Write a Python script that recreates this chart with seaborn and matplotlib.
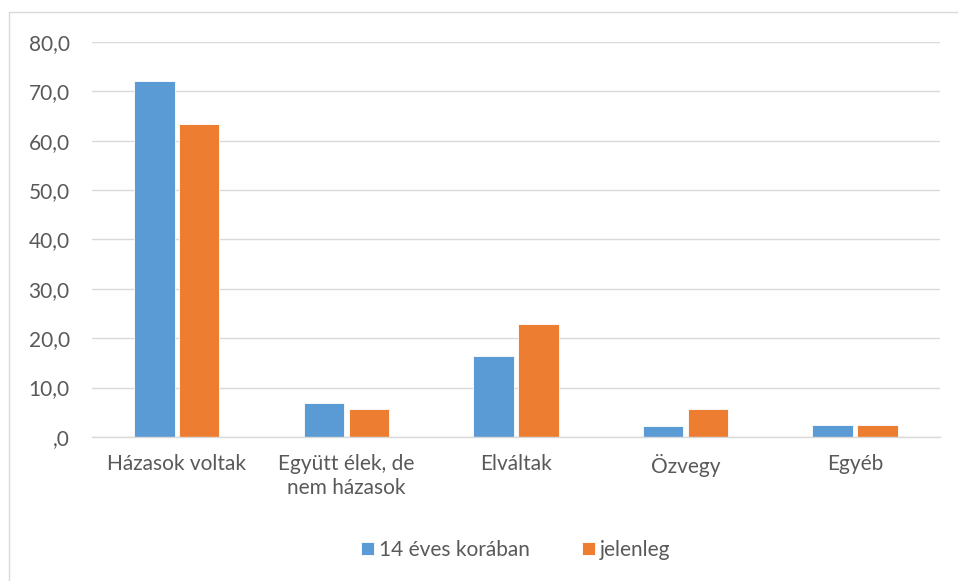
import pandas as pd
import matplotlib
matplotlib.use('Agg')
import matplotlib.pyplot as plt
import seaborn as sns
from matplotlib.ticker import FuncFormatter

categories = ['Házasok voltak', 'Együtt élek, de\nnem házasok', 'Elváltak', 'Özvegy', 'Egyéb']
series_names = ['14 éves korában', 'jelenleg']
values_14 = [72.0, 6.8, 16.4, 2.2, 2.5]
values_now = [63.3, 5.7, 22.9, 5.7, 2.4]

df = pd.DataFrame({
    'kategoria': categories * 2,
    'ertek': values_14 + values_now,
    'sorozat': [series_names[0]] * len(categories) + [series_names[1]] * len(categories),
})

sns.set_style('white')
plt.rcParams['font.family'] = ['Lato', 'DejaVu Sans']
text_color = '#595959'
fs = 15

fig = plt.figure(figsize=(9.58, 5.81), dpi=100)
ax = fig.add_axes([0.096, 0.248, 0.885, 0.68])

sns.barplot(data=df, x='kategoria', y='ertek', hue='sorozat',
            palette=['#5B9BD5', '#ED7D31'], saturation=1, width=0.53, gap=0.1,
            edgecolor='white', linewidth=0.6, ax=ax, legend=True)

ax.set_ylim(0, 80)
ax.set_yticks(range(0, 81, 10))
ax.yaxis.set_major_formatter(FuncFormatter(lambda v, p: ',0' if v == 0 else f'{v:.1f}'.replace('.', ',')))
ax.grid(axis='y', color='#d9d9d9', linewidth=1)
ax.set_axisbelow(True)
for s in ['top', 'right', 'left']:
    ax.spines[s].set_visible(False)
ax.spines['bottom'].set_color('#d9d9d9')
ax.spines['bottom'].set_linewidth(1)
ax.tick_params(axis='y', length=0, labelsize=fs, colors=text_color, pad=16)
ax.tick_params(axis='x', length=0, labelsize=fs, colors=text_color, pad=12)
for lab in ax.get_xticklabels():
    lab.set_linespacing(1.25)
ax.set_xlabel('')
ax.set_ylabel('')

leg = ax.legend(loc='center', bbox_to_anchor=(0.5, -0.285), ncol=2, frameon=False,
                fontsize=fs, handlelength=0.6, handleheight=0.6, columnspacing=2.5,
                handletextpad=0.25)
for t in leg.get_texts():
    t.set_color(text_color)

# chart frame
fig.patches.append(plt.Rectangle((0.009, -0.01), 1.0, 0.99, transform=fig.transFigure,
                                 fill=False, edgecolor='#d9d9d9', linewidth=1))

plt.savefig('out.png', dpi=100)
